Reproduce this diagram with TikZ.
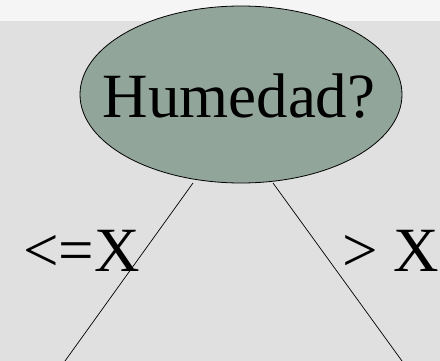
\documentclass[tikz,border=0pt]{standalone}
\usepackage{fontspec}
\setmainfont{Liberation Serif}
\usetikzlibrary{shapes.geometric}
\definecolor{bandcol}{HTML}{F5F5F5}
\definecolor{bgcol}{HTML}{E0E0E0}
\definecolor{nodecol}{HTML}{92A59A}
\tikzset{
  decision/.style={ellipse, draw=black, line width=0.8pt, fill=nodecol,
    minimum width=322pt, minimum height=177pt, inner sep=0pt},
  bigtext/.style={font=\fontsize{63}{63}\selectfont, inner sep=0pt},
  branchlabel/.style={bigtext, anchor=base west},
  branch/.style={draw=black, line width=0.7pt}
}
\begin{document}
\begin{tikzpicture}[x=1pt,y=-1pt]
  \useasboundingbox (0,0) rectangle (440,361);
  \fill[bgcol] (0,0) rectangle (440,361);
  \fill[bandcol] (0,0) rectangle (440,21.5);
  \node[decision] (h) at (241,94.5) {};
  \node[bigtext, anchor=base] (ht) at (239,118) {Humedad?};
  \coordinate (ls) at (193,183);
  \coordinate (le) at (65,361);
  \coordinate (rs) at (273,183);
  \coordinate (re) at (402,361);
  \node[branchlabel] (lx) at (23,272) {<=X};
  \node[branchlabel] (rx) at (342,272) {> X};
  \draw[branch] (ls) -- (le);
  \draw[branch] (rs) -- (re);
\end{tikzpicture}
\end{document}
